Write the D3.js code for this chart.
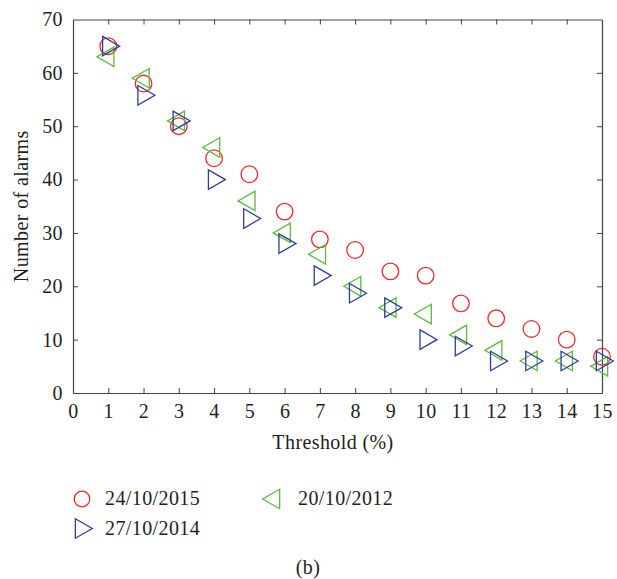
<!DOCTYPE html>
<html>
<head>
<meta charset="utf-8">
<script src="https://cdn.jsdelivr.net/npm/d3@7"></script>
<style>
  html, body { margin: 0; padding: 0; background: #fff; }
</style>
</head>
<body>
<svg id="chart" width="617" height="579"></svg>
<script>
const thresholds = [1,2,3,4,5,6,7,8,9,10,11,12,13,14,15];
const series2015 = [65,58,50,44,41,34,28.8,26.8,22.8,22,16.8,14,12,10,6.8];
const series2014 = [65,55.8,51,40,32.7,28,22,18.7,16,10,8.8,6,6,6,6];
const series2012 = [63,59,51,46,36,30,26,20,16,14.8,10.9,8,6,6,5];
const xTicks = d3.range(0, 16);
const yTicks = [0,10,20,30,40,50,60,70];
const seriesNames = ["24/10/2015", "27/10/2014", "20/10/2012"];

const FONT = "'Liberation Serif', 'Times New Roman', Times, 'DejaVu Serif', serif";
const FS = 20;
const svg = d3.select("#chart").attr("font-family", FONT).style("letter-spacing", "0.4px");
const L = 73, R = 602, T = 19.5, B = 393;
const x = d3.scaleLinear().domain([0, 15]).range([L, R]);
const y = d3.scaleLinear().domain([0, 70]).range([B, T]);
const axisColor = "#444";
const textColor = "#231f20";

const gx = svg.append("g").attr("transform", `translate(0,${B})`)
  .call(d3.axisBottom(x).tickValues(xTicks).tickSizeInner(-5).tickSizeOuter(0).tickPadding(11).tickFormat(d3.format("d")));
const gxt = svg.append("g").attr("transform", `translate(0,${T})`)
  .call(d3.axisTop(x).tickValues(xTicks).tickSizeInner(-5).tickSizeOuter(0).tickFormat(""));
const gy = svg.append("g").attr("transform", `translate(${L},0)`)
  .call(d3.axisLeft(y).tickValues(yTicks).tickSizeInner(-5).tickSizeOuter(0).tickPadding(10).tickFormat(d3.format("d")));
const gyr = svg.append("g").attr("transform", `translate(${R},0)`)
  .call(d3.axisRight(y).tickValues(yTicks).tickSizeInner(-5).tickSizeOuter(0).tickFormat(""));
[gx, gxt, gy, gyr].forEach(g => {
  g.attr("font-family", FONT).attr("font-size", FS);
  g.select(".domain").attr("stroke", axisColor).attr("stroke-width", 1.2);
  g.selectAll(".tick line").attr("stroke", axisColor).attr("stroke-width", 1);
  g.selectAll(".tick text").attr("fill", textColor);
});
gx.selectAll(".tick").filter(d => d === 0 || d === 15).select("line").remove();
gxt.selectAll(".tick").filter(d => d === 0 || d === 15).select("line").remove();
gy.selectAll(".tick").filter(d => d === 0 || d === 70).select("line").remove();
gyr.selectAll(".tick").filter(d => d === 0 || d === 70).select("line").remove();

svg.append("text").attr("x", 333).attr("y", 448.5).attr("text-anchor", "middle")
  .attr("font-size", FS).attr("fill", textColor).text("Threshold (%)");
svg.append("text").attr("transform", `translate(28,${(T + B) / 2}) rotate(-90)`)
  .attr("text-anchor", "middle").attr("font-size", FS).attr("fill", textColor).text("Number of alarms");

const colors = { red: "#ee2a2a", blue: "#2e3e9c", green: "#5cba3c" };
const W = 17, H = 19.5;
function triRight(cx, cy) {
  const lx = cx - W / 3;
  return `M${lx},${cy - H / 2}L${lx + W},${cy}L${lx},${cy + H / 2}Z`;
}
function triLeft(cx, cy) {
  const rx = cx + W / 3;
  return `M${rx},${cy - H / 2}L${rx - W},${cy}L${rx},${cy + H / 2}Z`;
}

const plot = svg.append("g");
plot.selectAll("circle.s2015").data(thresholds.map((t, i) => [t, series2015[i]]))
  .join("circle").attr("class", "s2015")
  .attr("cx", d => x(d[0])).attr("cy", d => y(d[1])).attr("r", 8.3)
  .attr("fill", "none").attr("stroke", colors.red).attr("stroke-width", 1.3);
plot.selectAll("path.s2012").data(thresholds.map((t, i) => [t, series2012[i]]))
  .join("path").attr("class", "s2012")
  .attr("d", d => triLeft(x(d[0]), y(d[1])))
  .attr("fill", "none").attr("stroke", colors.green).attr("stroke-width", 1.3);
plot.selectAll("path.s2014").data(thresholds.map((t, i) => [t, series2014[i]]))
  .join("path").attr("class", "s2014")
  .attr("d", d => triRight(x(d[0]), y(d[1])))
  .attr("fill", "none").attr("stroke", colors.blue).attr("stroke-width", 1.3);

const lg = svg.append("g").attr("font-size", FS).attr("fill", textColor);
lg.append("circle").attr("cx", 82).attr("cy", 499).attr("r", 7.8)
  .attr("fill", "none").attr("stroke", colors.red).attr("stroke-width", 1.3);
lg.append("text").attr("x", 105).attr("y", 505).text(seriesNames[0]);
lg.append("path").attr("d", triRight(81, 528.5)).attr("fill", "none")
  .attr("stroke", colors.blue).attr("stroke-width", 1.3);
lg.append("text").attr("x", 105).attr("y", 535).text(seriesNames[1]);
lg.append("path").attr("d", triLeft(274, 499)).attr("fill", "none")
  .attr("stroke", colors.green).attr("stroke-width", 1.3);
lg.append("text").attr("x", 298).attr("y", 505).text(seriesNames[2]);

svg.append("text").attr("x", 308).attr("y", 574).attr("text-anchor", "middle")
  .attr("font-size", FS).attr("fill", textColor).text("(b)");
</script>
</body>
</html>
